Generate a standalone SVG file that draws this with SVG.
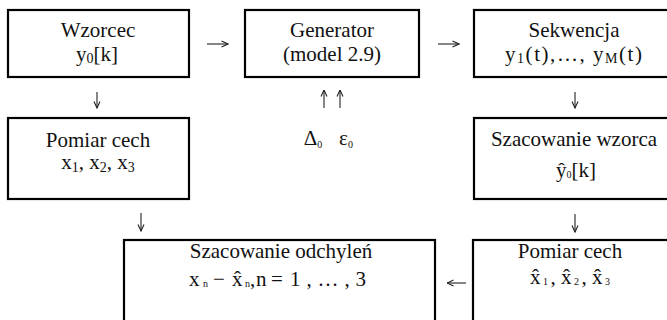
<svg xmlns="http://www.w3.org/2000/svg" width="667" height="320" viewBox="0 0 667 320">
<style>
.box{fill:#fff;stroke:#000;stroke-width:2.2}
text{font-family:"Liberation Serif","Times New Roman",serif;font-size:21px;fill:#111;text-anchor:middle}
.l{text-anchor:start}
.sub{font-size:14px}
.tiny{font-size:10px}
.c{stroke:#222;stroke-width:1.1;fill:none}
</style>
<defs>
<marker id="ah" viewBox="0 0 8 8" refX="7.5" refY="4" markerWidth="8" markerHeight="8" markerUnits="userSpaceOnUse" orient="auto">
<path d="M1,1 L7.5,4 L1,7" fill="none" stroke="#222" stroke-width="1.1"/>
</marker>
</defs>
<rect width="667" height="320" fill="#fff"/>
<g id="connectors">
<line class="c" x1="207" y1="44" x2="228" y2="44" marker-end="url(#ah)"/>
<line class="c" x1="438" y1="44" x2="459" y2="44" marker-end="url(#ah)"/>
<line class="c" x1="97" y1="92" x2="97" y2="108" marker-end="url(#ah)"/>
<line class="c" x1="141" y1="213" x2="141" y2="231" marker-end="url(#ah)"/>
<line class="c" x1="324" y1="108" x2="324" y2="90" marker-end="url(#ah)"/>
<line class="c" x1="340" y1="108" x2="340" y2="90" marker-end="url(#ah)"/>
<line class="c" x1="575" y1="92" x2="575" y2="108" marker-end="url(#ah)"/>
<line class="c" x1="575" y1="214" x2="575" y2="232" marker-end="url(#ah)"/>
<line class="c" x1="466" y1="283" x2="447" y2="283" marker-end="url(#ah)"/>
</g>
<g id="wzorzec">
<rect class="box" x="8" y="10" width="181" height="67"/>
<text x="98" y="37">Wzorcec</text>
<text x="97" y="61">y<tspan class="sub" dy="2">0</tspan><tspan dy="-2">[k]</tspan></text>
</g>
<g id="generator">
<rect class="box" x="245" y="10" width="174" height="67"/>
<text x="332" y="37">Generator</text>
<text x="332" y="61">(model 2.9)</text>
</g>
<g id="sekwencja">
<rect class="box" x="474" y="10" width="210" height="67"/>
<text x="574" y="37">Sekwencja</text>
<text class="l" x="505" y="61" textLength="137" lengthAdjust="spacing">y<tspan class="sub" dy="2">1</tspan><tspan dy="-2">(t),…, y</tspan><tspan class="sub" dy="2">M</tspan><tspan dy="-2">(t)</tspan></text>
</g>
<g id="params">
<text x="313" y="145">Δ<tspan class="tiny" dy="3">0</tspan></text>
<text x="346" y="145">ε<tspan class="tiny" dy="3">0</tspan></text>
</g>
<g id="pomiar1">
<rect class="box" x="8" y="118" width="181" height="81"/>
<text x="98" y="147">Pomiar cech</text>
<text x="98" y="169">x<tspan class="sub" dy="3">1</tspan><tspan dy="-3">, x</tspan><tspan class="sub" dy="3">2</tspan><tspan dy="-3">, x</tspan><tspan class="sub" dy="3">3</tspan></text>
</g>
<g id="szacowanie-wzorca">
<rect class="box" x="474" y="118" width="210" height="81"/>
<text x="574" y="146">Szacowanie wzorca</text>
<text x="576" y="177">ŷ<tspan class="tiny" dy="1">0</tspan><tspan dy="-1">[k]</tspan></text>
</g>
<g id="szacowanie-odchylen">
<rect class="box" x="124" y="240" width="311" height="100"/>
<text x="281" y="258">Szacowanie odchyleń</text>
<text class="l" x="189" y="286">x<tspan class="tiny" x="203" dy="1">n</tspan><tspan x="213" dy="-1">−</tspan><tspan x="232">x̂</tspan><tspan class="tiny" x="245" dy="1">n</tspan><tspan x="250" dy="-1">,</tspan><tspan x="256">n</tspan><tspan x="271">=</tspan></text>
<text class="l" x="290" y="286" textLength="76" lengthAdjust="spacing">1,…,3</text>
</g>
<g id="pomiar2">
<rect class="box" x="473" y="240" width="211" height="100"/>
<text x="570" y="258">Pomiar cech</text>
<text x="570" y="284">x̂<tspan class="tiny" dy="1"> 1 </tspan><tspan dy="-1">, x̂</tspan><tspan class="tiny" dy="1"> 2 </tspan><tspan dy="-1">, x̂</tspan><tspan class="tiny" dy="1"> 3</tspan></text>
</g>
</svg>
